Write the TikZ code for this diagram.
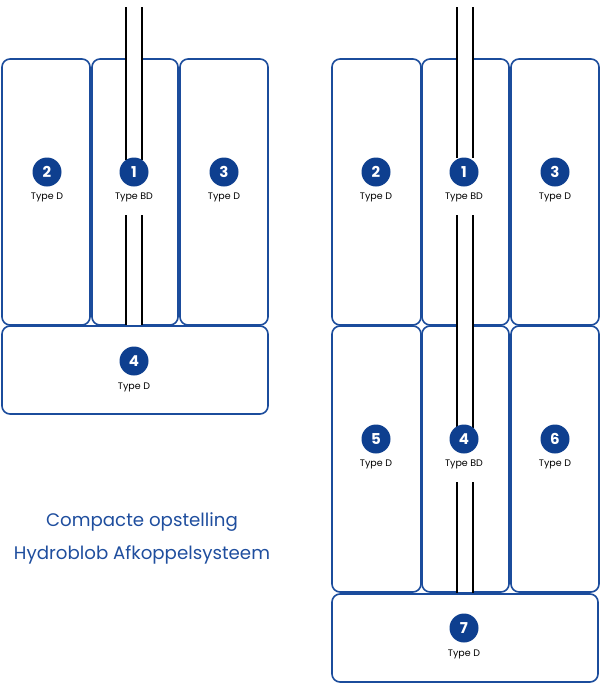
\documentclass[tikz,border=0pt]{standalone}
\usepackage{fontspec}
\setmainfont{Poppins}
\definecolor{blobblue}{HTML}{1B4C9C}
\definecolor{discblue}{HTML}{0E3F8F}
\definecolor{titleblue}{HTML}{1F4E9E}
\tikzset{
  blob/.style={draw=blobblue, line width=1.6pt, rounded corners=8pt, fill=white, anchor=north west, inner sep=0pt, outer sep=0pt},
  disc/.style={circle, fill=discblue, text=white, minimum size=29pt, inner sep=0pt, font=\fontsize{15}{15}\selectfont\bfseries},
  lbl/.style={font=\fontsize{9.5}{10}\selectfont, text=black, inner sep=0pt},
  pipeline/.style={draw=black, line width=1.6pt},
  pipefill/.style={fill=white, draw=none},
  title/.style={font=\fontsize{18.2}{20}\selectfont, text=titleblue, inner sep=0pt}
}
\begin{document}
\begin{tikzpicture}[x=1pt, y=-1pt]
\useasboundingbox (0,0) rectangle (600,683);
% ---------- left arrangement ----------
\node[blob, minimum width=88pt, minimum height=266pt] (L2) at (2,59) {};
\node[blob, minimum width=86pt, minimum height=266pt] (L1) at (92,59) {};
\node[blob, minimum width=88pt, minimum height=266pt] (L3) at (180,59) {};
\node[blob, minimum width=266pt, minimum height=88pt] (L4) at (2,326) {};
% pipe
\coordinate (lpa) at (126,7); \coordinate (lpb) at (142,325);
\fill[pipefill] (lpa) rectangle (lpb);
\coordinate (la1) at (126,7);   \coordinate (la2) at (126,160);
\coordinate (lb1) at (142,7);   \coordinate (lb2) at (142,160);
\coordinate (la3) at (126,215); \coordinate (la4) at (126,325);
\coordinate (lb3) at (142,215); \coordinate (lb4) at (142,325);
\draw[pipeline] (la1) -- (la2); \draw[pipeline] (lb1) -- (lb2);
\draw[pipeline] (la3) -- (la4); \draw[pipeline] (lb3) -- (lb4);
\node[disc] (n1) at (134,172) {1};
\node[lbl] (t1) at (134,197) {Type BD};
\node[disc] (n2) at (47,172) {2};
\node[lbl] (t2) at (47,197) {Type D};
\node[disc] (n3) at (224,172) {3};
\node[lbl] (t3) at (224,197) {Type D};
\node[disc] (n4) at (134,361) {4};
\node[lbl] (t4) at (134,387) {Type D};
% ---------- title ----------
\node[title] (ttl1) at (142,522) {Compacte opstelling};
\node[title] (ttl2) at (142,555) {Hydroblob Afkoppelsysteem};
% ---------- right arrangement ----------
\node[blob, minimum width=89pt, minimum height=266pt] (R2) at (332,59) {};
\node[blob, minimum width=87pt, minimum height=266pt] (R1) at (422,59) {};
\node[blob, minimum width=88pt, minimum height=266pt] (R3) at (511,59) {};
\node[blob, minimum width=89pt, minimum height=266pt] (R5) at (332,326) {};
\node[blob, minimum width=87pt, minimum height=266pt] (R4) at (422,326) {};
\node[blob, minimum width=88pt, minimum height=266pt] (R6) at (511,326) {};
% pipe
\coordinate (rpa) at (457,7); \coordinate (rpb) at (473,592);
\fill[pipefill] (rpa) rectangle (rpb);
\coordinate (ra1) at (457,7);   \coordinate (ra2) at (457,158);
\coordinate (rb1) at (473,7);   \coordinate (rb2) at (473,158);
\coordinate (ra3) at (457,215); \coordinate (ra4) at (457,428);
\coordinate (rb3) at (473,215); \coordinate (rb4) at (473,428);
\coordinate (ra5) at (457,482); \coordinate (ra6) at (457,593);
\coordinate (rb5) at (473,482); \coordinate (rb6) at (473,593);
\draw[pipeline] (ra1) -- (ra2); \draw[pipeline] (rb1) -- (rb2);
\draw[pipeline] (ra3) -- (ra4); \draw[pipeline] (rb3) -- (rb4);
\draw[pipeline] (ra5) -- (ra6); \draw[pipeline] (rb5) -- (rb6);
\node[blob, minimum width=266pt, minimum height=88pt] (R7) at (332,594) {};
\node[disc] (m1) at (464,172) {1};
\node[lbl] (s1) at (464,197) {Type BD};
\node[disc] (m2) at (376,172) {2};
\node[lbl] (s2) at (376,197) {Type D};
\node[disc] (m3) at (555,172) {3};
\node[lbl] (s3) at (555,197) {Type D};
\node[disc] (m5) at (376,439) {5};
\node[lbl] (s5) at (376,464) {Type D};
\node[disc] (m4) at (464,439) {4};
\node[lbl] (s4) at (464,464) {Type BD};
\node[disc] (m6) at (555,439) {6};
\node[lbl] (s6) at (555,464) {Type D};
\node[disc] (m7) at (464,628) {7};
\node[lbl] (s7) at (464,654) {Type D};
\end{tikzpicture}
\end{document}
